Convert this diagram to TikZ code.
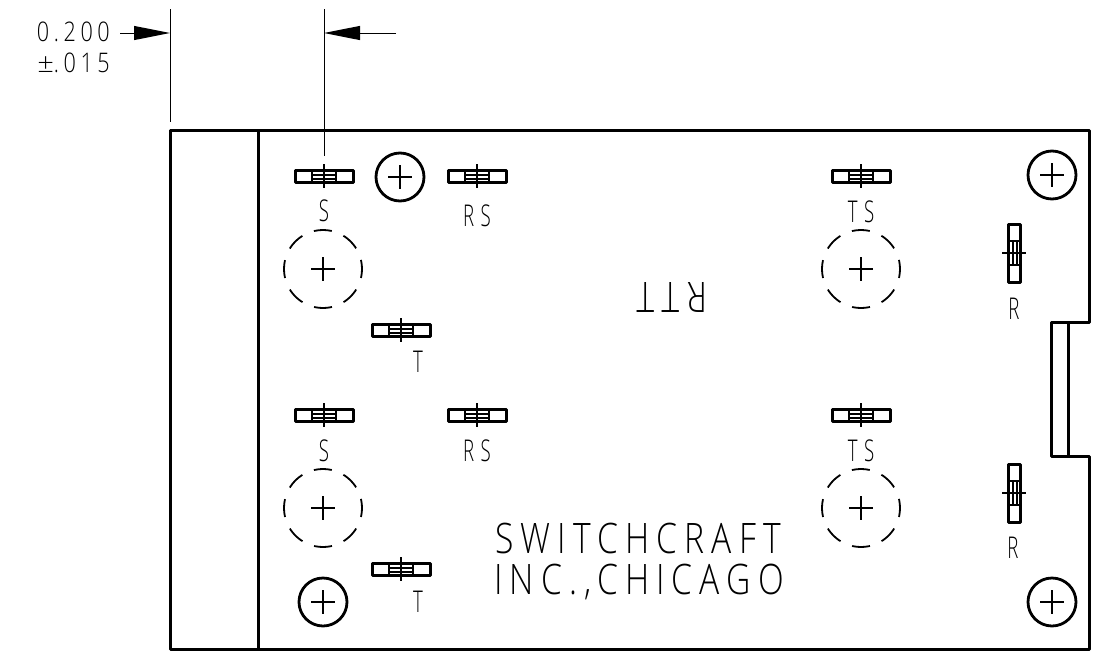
\documentclass[tikz,border=0pt]{standalone}
\usepackage{fontspec}
\newfontfamily\cadfont[FakeStretch=0.62,LetterSpace=22]{Open Sans Light}
\newfontfamily\cadwide[FakeStretch=0.8,LetterSpace=17]{Open Sans Light}
\usetikzlibrary{arrows.meta}
\tikzset{
  board/.style={line width=3pt, line join=round},
  thinline/.style={line width=1pt},
  dimarrow/.style={line width=1pt, -{Triangle[length=36pt,width=14pt]}},
  cadlabel/.style={inner sep=0pt, font=\cadfont\fontsize{30}{30}\selectfont},
  cadbig/.style={inner sep=0pt, font=\cadwide\fontsize{42}{42}\selectfont},
  caddim/.style={inner sep=0pt, anchor=east, font=\cadwide\fontsize{27}{27}\selectfont},
  pics/hterm/.style={code={
    \draw[line width=3pt, line join=round] (-29,-6) rectangle (29,6);
    \draw[line width=1.4pt] (-12,-6) -- (-12,6) (12,-6) -- (12,6) (-12,-1) -- (12,-1) (-12,3) -- (12,3) (0,-12) -- (0,12);
  }},
  pics/vterm/.style={code={
    \draw[line width=3pt, line join=round] (-6,-29) rectangle (6,29);
    \draw[line width=1.4pt] (-6,-12) -- (6,-12) (-6,12) -- (6,12) (-1,-12) -- (-1,12) (3,-12) -- (3,12) (-12,0) -- (12,0);
  }},
  pics/screw/.style={code={
    \draw[line width=2.8pt] (0,0) circle (24);
    \draw[line width=1.4pt] (-12,0) -- (12,0) (0,-12) -- (0,12);
  }},
  pics/hole/.style={code={
    \draw[line width=1.8pt, dash pattern=on 18pt off 12.6pt, dash phase=9pt] (0,0) circle (39);
    \draw[line width=1.4pt] (-12,0) -- (12,0) (0,-12) -- (0,12);
  }},
}
\begin{document}
\begin{tikzpicture}[x=1pt, y=-1pt]
\useasboundingbox (0,0) rectangle (1098,654);

% board outline
\draw[board] (170,130) -- (1089,130) -- (1089,322) -- (1051,322) -- (1051,456) -- (1089,456) -- (1089,649) -- (170,649) -- cycle;
\draw[board] (258,130) -- (258,649);
\draw[board] (1068,322) -- (1068,456);

% terminals
\foreach \x/\y in {324/176, 477/176, 861/176, 401/330, 324/415, 477/415, 861/415, 401/569}
  \pic at (\x,\y) {hterm};
\foreach \y in {253, 493}
  \pic at (1014,\y) {vterm};

% screws and holes
\foreach \x/\y in {400/177, 1052/175, 323/602, 1052/602}
  \pic at (\x,\y) {screw};
\foreach \x/\y in {323/269, 861/269, 323/508, 861/508}
  \pic at (\x,\y) {hole};

% terminal labels
\node[cadlabel] (s1) at (324,211) {S};
\node[cadlabel] (rs1) at (477,216) {RS};
\node[cadlabel] (ts1) at (861,212) {TS};
\node[cadlabel] (r1) at (1014,309) {R};
\node[cadlabel] (t1) at (418,362) {T};
\node[cadlabel] (s2) at (324,451) {S};
\node[cadlabel] (rs2) at (477,451) {RS};
\node[cadlabel] (ts2) at (861,451) {TS};
\node[cadlabel] (r2) at (1013,548) {R};
\node[cadlabel] (t2) at (418,602) {T};
\node[cadbig, rotate=180] (rtt) at (672,297) {RTT};
\node[cadbig] (maker) at (638,538) {SWITCHCRAFT};
\node[cadbig] (city) at (639,582) {INC.,CHICAGO};

% dimension
\coordinate (leftext) at (170,122);
\coordinate (lefttop) at (170,9);
\coordinate (rightext) at (324,156);
\coordinate (righttop) at (324,9);
\coordinate (lefttip) at (170,33);
\coordinate (righttip) at (324,33);
\coordinate (lefttail) at (120,33);
\coordinate (righttail) at (396,33);
\draw[thinline] (lefttop) -- (leftext);
\draw[thinline] (righttop) -- (rightext);
\draw[dimarrow] (lefttail) -- (lefttip);
\draw[dimarrow] (righttail) -- (righttip);
\node[caddim] (dimval) at (110,32) {0.200};
\node[caddim] (dimtol) at (110,63) {\scalebox{1.35}[1]{±}.015};
\end{tikzpicture}
\end{document}
